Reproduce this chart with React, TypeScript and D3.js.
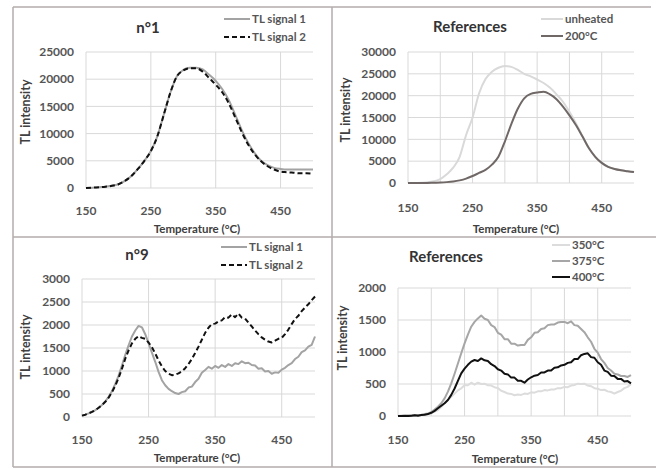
import * as d3 from "d3";

// temperature grids (°C)
const temps10 = d3.range(150, 501, 10);
const temps5 = d3.range(150, 501, 5);

// n°1 (10 °C steps)
const n1Signal1 = [0, 50, 150, 250, 400, 700, 1300, 2200, 3500, 5000, 6800, 9500, 13500, 17500, 20500, 21700, 22100, 22100, 21800, 20800, 19700, 18200, 16200, 13500, 10700, 8300, 6400, 5000, 4200, 3700, 3500, 3400, 3400, 3400, 3400, 3400];
const n1Signal2 = [0, 50, 150, 250, 400, 700, 1300, 2200, 3500, 5000, 6800, 9500, 13500, 17500, 20500, 21600, 22000, 22000, 21400, 20200, 19000, 17600, 15600, 13000, 10300, 8000, 6200, 4900, 4000, 3400, 3000, 2900, 2800, 2700, 2700, 2600];

// References, top (10 °C steps)
const refUnheated = [0, 0, 50, 150, 400, 900, 2000, 3500, 6000, 11000, 15000, 20500, 23800, 25500, 26400, 26800, 26600, 25900, 25000, 24400, 23700, 22900, 21800, 20300, 18600, 16300, 13700, 10800, 8000, 6000, 4600, 3700, 3200, 2900, 2700, 2500];
const ref200 = [0, 0, 0, 0, 50, 100, 200, 350, 600, 1000, 1600, 2300, 3000, 4200, 6000, 9500, 13500, 17000, 19400, 20400, 20700, 20900, 20300, 19200, 17500, 15500, 13300, 10700, 8000, 6000, 4600, 3700, 3200, 2900, 2700, 2500];

// n°9 (5 °C steps)
const n9Signal1 = [30, 50, 80, 110, 150, 200, 260, 340, 440, 560, 720, 900, 1120, 1350, 1560, 1750, 1880, 1980, 1950, 1800, 1600, 1400, 1200, 980, 800, 690, 610, 560, 520, 500, 540, 560, 640, 660, 760, 830, 960, 1020, 1090, 1050, 1110, 1070, 1130, 1090, 1150, 1110, 1170, 1150, 1210, 1170, 1180, 1130, 1120, 1050, 1060, 990, 1000, 940, 970, 960, 1030, 1070, 1130, 1170, 1260, 1310, 1410, 1450, 1530, 1570, 1750];
const n9Signal2 = [30, 50, 80, 110, 150, 200, 260, 330, 420, 540, 680, 850, 1050, 1270, 1450, 1600, 1700, 1760, 1720, 1700, 1620, 1520, 1380, 1230, 1100, 1000, 940, 910, 920, 950, 990, 1060, 1150, 1260, 1390, 1530, 1680, 1830, 1940, 2020, 2030, 2080, 2100, 2170, 2160, 2230, 2170, 2250, 2160, 2140, 2050, 1970, 1880, 1800, 1730, 1680, 1640, 1620, 1660, 1700, 1720, 1800, 1900, 2020, 2130, 2200, 2300, 2380, 2450, 2540, 2620, 2640];

// References, bottom (5 °C steps)
const ref350 = [0, 0, 0, 5, 0, 5, 10, 15, 20, 30, 45, 70, 94, 140, 200, 250, 300, 350, 400, 432, 480, 480, 520, 490, 520, 500, 505, 480, 475, 450, 435, 395, 375, 350, 345, 325, 335, 330, 350, 345, 370, 365, 385, 385, 405, 400, 415, 415, 435, 435, 455, 450, 475, 485, 505, 500, 505, 475, 465, 435, 425, 405, 410, 385, 375, 350, 375, 395, 435, 455, 500];
const ref375 = [0, 5, 0, 8, 5, 10, 15, 20, 30, 40, 60, 100, 145, 200, 275, 380, 510, 660, 820, 980, 1135, 1270, 1395, 1470, 1525, 1570, 1520, 1500, 1420, 1390, 1300, 1270, 1200, 1200, 1130, 1130, 1100, 1110, 1110, 1190, 1230, 1300, 1310, 1360, 1370, 1420, 1430, 1430, 1460, 1470, 1470, 1450, 1480, 1420, 1410, 1360, 1310, 1230, 1160, 1050, 990, 890, 830, 750, 710, 660, 650, 625, 625, 610, 640];
const ref400 = [0, 0, 5, 0, 5, 10, 5, 15, 20, 30, 50, 80, 120, 160, 200, 250, 330, 430, 550, 667, 740, 800, 850, 875, 860, 900, 870, 860, 810, 780, 730, 710, 660, 650, 600, 600, 550, 550, 520, 570, 605, 630, 640, 680, 680, 710, 710, 755, 760, 790, 800, 830, 840, 890, 890, 950, 970, 980, 920, 910, 840, 800, 710, 690, 630, 625, 580, 580, 540, 545, 510];

const xTicks = [150, 250, 350, 450];

const FONT = "Lato, 'Open Sans', sans-serif";
const TEXT = "#555";
const GRID = "#d9d9d9";
const FRAME = "#b3adab";

type Series = { name: string; temps: number[]; values: number[]; color: string; width: number; dash?: string };

type PanelProps = {
  px: [number, number];
  py: [number, number];
  yMax: number;
  yStep: number;
  gridStep: number;
  series: Series[];
  curve: any;
  title: string;
  titleX: number;
  titleY: number;
  legendX: [number, number];
  legendY: number[];
  yLabelX: number;
  yLabelY: number;
  xTickY: number;
  xTitleX: number;
  xTitleY: number;
};

const Panel = (p: PanelProps) => {
  const x = d3.scaleLinear().domain([150, 500]).range(p.px);
  const y = d3.scaleLinear().domain([0, p.yMax]).range(p.py);
  const yTicks = d3.range(0, p.yMax + 1, p.yStep);
  const vGrid = d3.range(150, 500, p.gridStep);
  const line = d3
    .line<[number, number]>()
    .x((d) => x(d[0]))
    .y((d) => y(d[1]))
    .curve(p.curve);

  return (
    <g fontFamily={FONT} fontWeight="bold">
      {yTicks.map((t) => (
        <line key={"h" + t} x1={p.px[0]} x2={p.px[1]} y1={y(t)} y2={y(t)} stroke={GRID} strokeWidth={1} />
      ))}
      {vGrid.map((t) => (
        <line key={"v" + t} x1={x(t)} x2={x(t)} y1={p.py[0]} y2={p.py[1]} stroke={GRID} strokeWidth={1} />
      ))}
      {p.series.map((s) => (
        <path
          key={s.name}
          d={line(s.temps.map((t, i) => [t, s.values[i]]) as [number, number][]) || ""}
          fill="none"
          stroke={s.color}
          strokeWidth={s.width}
          strokeDasharray={s.dash}
          strokeLinejoin="round"
        />
      ))}
      {yTicks.map((t) => (
        <text key={"yl" + t} x={p.px[0] - 12} y={y(t)} dy="0.35em" textAnchor="end" fontSize={12} fill={TEXT}>
          {t}
        </text>
      ))}
      {xTicks.map((t) => (
        <text key={"xl" + t} x={x(t)} y={p.xTickY} dy="0.35em" textAnchor="middle" fontSize={12} fill={TEXT}>
          {t}
        </text>
      ))}
      <text x={p.xTitleX} y={p.xTitleY} dy="0.35em" textAnchor="middle" fontSize={11.5} fill="#404040">
        Temperature (°C)
      </text>
      <text
        transform={`translate(${p.yLabelX},${p.yLabelY}) rotate(-90)`}
        dy="0.35em"
        textAnchor="middle"
        fontSize={12.5}
        fill="#404040"
      >
        TL intensity
      </text>
      <text x={p.titleX} y={p.titleY} dy="0.35em" textAnchor="middle" fontSize={15} fill="#333">
        {p.title}
      </text>
      {p.series.map((s, i) => (
        <g key={"lg" + s.name}>
          <line
            x1={p.legendX[0]}
            x2={p.legendX[1]}
            y1={p.legendY[i]}
            y2={p.legendY[i]}
            stroke={s.color}
            strokeWidth={s.width}
            strokeDasharray={s.dash}
          />
          <text x={p.legendX[1] + 2} y={p.legendY[i]} dy="0.35em" fontSize={11.5} fill={TEXT}>
            {s.name}
          </text>
        </g>
      ))}
    </g>
  );
};

export default function App() {
  return (
    <svg width={656} height={469} style={{ position: "absolute", left: 0, top: 0, background: "#fff" }}>
      <rect width={656} height={469} fill="#fff" />
      <Panel
        px={[86, 313]}
        py={[188, 52]}
        yMax={25000}
        yStep={5000}
        gridStep={100}
        curve={d3.curveMonotoneX}
        series={[
          { name: "TL signal 1", temps: temps10, values: n1Signal1, color: "#a3a3a3", width: 2 },
          { name: "TL signal 2", temps: temps10, values: n1Signal2, color: "#111", width: 2, dash: "5,3" },
        ]}
        title="n°1"
        titleX={148}
        titleY={28}
        legendX={[224, 250]}
        legendY={[19, 37]}
        yLabelX={26}
        yLabelY={112}
        xTickY={211}
        xTitleX={197}
        xTitleY={229}
      />
      <Panel
        px={[408, 634]}
        py={[183, 52]}
        yMax={30000}
        yStep={5000}
        gridStep={50}
        curve={d3.curveMonotoneX}
        series={[
          { name: "unheated", temps: temps10, values: refUnheated, color: "#d9d9d9", width: 2 },
          { name: "200°C", temps: temps10, values: ref200, color: "#6f6866", width: 2 },
        ]}
        title="References"
        titleX={470}
        titleY={27}
        legendX={[541, 563]}
        legendY={[19, 36]}
        yLabelX={346}
        yLabelY={110}
        xTickY={208}
        xTitleX={516}
        xTitleY={229}
      />
      <Panel
        px={[82, 315]}
        py={[417, 279]}
        yMax={3000}
        yStep={500}
        gridStep={100}
        curve={d3.curveLinear}
        series={[
          { name: "TL signal 1", temps: temps5, values: n9Signal1, color: "#a3a3a3", width: 2 },
          { name: "TL signal 2", temps: temps5, values: n9Signal2, color: "#111", width: 2, dash: "5,3" },
        ]}
        title="n°9"
        titleX={137}
        titleY={255}
        legendX={[221, 247]}
        legendY={[247, 265]}
        yLabelX={26}
        yLabelY={347}
        xTickY={440}
        xTitleX={197}
        xTitleY={458}
      />
      <Panel
        px={[398, 631]}
        py={[416, 288]}
        yMax={2000}
        yStep={500}
        gridStep={50}
        curve={d3.curveLinear}
        series={[
          { name: "350°C", temps: temps5, values: ref350, color: "#dcdcdc", width: 2 },
          { name: "375°C", temps: temps5, values: ref375, color: "#a6a6a6", width: 2 },
          { name: "400°C", temps: temps5, values: ref400, color: "#111", width: 2 },
        ]}
        title="References"
        titleX={446}
        titleY={257}
        legendX={[552, 570]}
        legendY={[245, 261, 277]}
        yLabelX={343}
        yLabelY={338}
        xTickY={440}
        xTitleX={515}
        xTitleY={459}
      />
      <g stroke={FRAME} strokeWidth={1.5}>
        <line x1={13} x2={651} y1={7} y2={7} />
        <line x1={13} x2={13} y1={7} y2={467} />
        <line x1={13} x2={656} y1={467} y2={467} />
        <line x1={332} x2={332} y1={7} y2={467} />
        <line x1={13} x2={656} y1={237} y2={237} />
      </g>
    </svg>
  );
}
